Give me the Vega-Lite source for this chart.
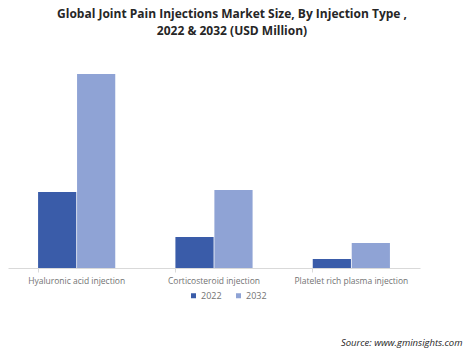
{
  "$schema": "https://vega.github.io/schema/vega-lite/v6.json",
  "width": 412,
  "height": 200,
  "autosize": "none",
  "padding": {"left": 8, "top": 68, "right": 54, "bottom": 93},
  "background": "white",
  "title": {
    "text": ["Global Joint Pain Injections Market Size, By Injection Type ,", "2022 & 2032 (USD Million)"],
    "font": "Open Sans",
    "fontSize": 12,
    "fontWeight": "bold",
    "color": "#262626",
    "anchor": "middle",
    "dx": 18,
    "offset": 30,
    "lineHeight": 17
  },
  "data": {
    "values": [
      {"type": "Hyaluronic acid injection", "year": "2022", "value": 760},
      {"type": "Hyaluronic acid injection", "year": "2032", "value": 1940},
      {"type": "Corticosteroid injection", "year": "2022", "value": 310},
      {"type": "Corticosteroid injection", "year": "2032", "value": 780},
      {"type": "Platelet rich plasma injection", "year": "2022", "value": 90},
      {"type": "Platelet rich plasma injection", "year": "2032", "value": 250}
    ]
  },
  "mark": {"type": "bar"},
  "encoding": {
    "x": {
      "field": "type",
      "type": "nominal",
      "sort": null,
      "scale": {"paddingInner": 0.438, "paddingOuter": 0.219},
      "axis": {
        "title": "Source: www.gminsights.com",
        "titleFont": "Open Sans",
        "titleFontStyle": "italic",
        "titleFontWeight": "normal",
        "titleFontSize": 9.5,
        "titleColor": "#262626",
        "titleAlign": "right",
        "titleAnchor": null,
        "titleX": 454,
        "titleY": 69,
        "labelAngle": 0,
        "labelFont": "Open Sans",
        "labelFontSize": 8.5,
        "labelColor": "#737373",
        "labelPadding": 4,
        "domainColor": "#d9d9d9",
        "tickColor": "#d9d9d9",
        "tickSize": 4,
        "bandPosition": 0
      }
    },
    "xOffset": {"field": "year", "type": "nominal", "scale": {"paddingInner": 0.02}},
    "y": {
      "field": "value",
      "type": "quantitative",
      "scale": {"domain": [0, 2000]},
      "axis": null
    },
    "color": {
      "field": "year",
      "type": "nominal",
      "scale": {"domain": ["2022", "2032"], "range": ["#3a5ca9", "#8fa3d5"]},
      "legend": {
        "title": null,
        "orient": "none",
        "direction": "horizontal",
        "legendX": 181,
        "legendY": 223,
        "symbolType": "square",
        "symbolSize": 25,
        "labelFont": "Open Sans",
        "labelFontSize": 9,
        "labelColor": "#737373",
        "labelOffset": 3,
        "columnPadding": 12
      }
    }
  },
  "config": {"view": {"stroke": null}}
}
